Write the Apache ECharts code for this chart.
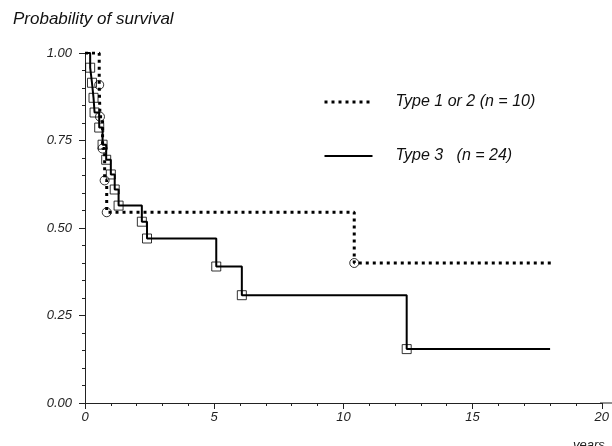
<!DOCTYPE html>
<html>
<head>
<meta charset="utf-8">
<script src="https://cdn.jsdelivr.net/npm/echarts@6/dist/echarts.min.js"></script>
<style>html,body{margin:0;padding:0;background:#fff;}#c{width:612px;height:446px;}</style>
</head>
<body>
<div id="c"></div>
<script>
// Data
const type12Name = 'Type 1 or 2 (n = 10)';
const type12Times = [0, 0.55, 0.58, 0.68, 0.76, 0.84, 10.42, 18.1];
const type12Surv  = [1.0, 0.909, 0.818, 0.727, 0.636, 0.545, 0.40, 0.40];

const type3Name = 'Type 3   (n = 24)';
const type3Times = [0, 0.2, 0.27, 0.33, 0.37, 0.55, 0.68, 0.82, 1.0, 1.15, 1.3, 2.2, 2.4, 5.08, 6.07, 12.45, 18.0];
const type3Surv  = [1.0, 0.958, 0.915, 0.872, 0.83, 0.787, 0.738, 0.695, 0.653, 0.61, 0.564, 0.518, 0.47, 0.39, 0.308, 0.154, 0.154];

const xTicks = [0, 5, 10, 15, 20];
const yTicks = [0, 0.25, 0.5, 0.75, 1.0];

const zip = (a, b) => a.map((v, i) => [v, b[i]]);
const type12Data = zip(type12Times, type12Surv);
const type3Data = zip(type3Times, type3Surv);
const type12Marks = type12Data.slice(1, -1);
const type3Marks = type3Data.slice(1, -1);

const FONT = '"Liberation Sans", Arial, sans-serif';
const ink = '#111';
const dottedStyle = {color: '#000', width: 3, type: [3, 4], cap: 'butt'};
const solidStyle = {color: '#000', width: 2, type: 'solid'};

const chart = echarts.init(document.getElementById('c'), null, {renderer: 'canvas'});
chart.setOption({
  animation: false,
  backgroundColor: '#fff',
  title: {
    text: 'Probability of survival',
    left: 8, top: 6,
    textStyle: {fontFamily: FONT, fontStyle: 'italic', fontWeight: 'normal', fontSize: 17, color: ink}
  },
  legend: {
    orient: 'vertical',
    left: 318, top: 89,
    itemWidth: 48, itemHeight: 16, itemGap: 38,
    selectedMode: false,
    data: [
      {name: type12Name, lineStyle: {color: '#000', width: 3, type: [3, 4], cap: 'butt'}},
      {name: type3Name, lineStyle: {color: '#000', width: 2, type: 'solid'}}
    ],
    itemStyle: {opacity: 0},
    textStyle: {fontFamily: FONT, fontStyle: 'italic', fontSize: 16, color: ink, padding: [0, 0, 0, 18]}
  },
  grid: {left: 85, right: 3, top: 53, bottom: 43, containLabel: false},
  xAxis: {
    type: 'value', min: xTicks[0], max: xTicks[xTicks.length - 1], interval: 5,
    axisLine: {show: true, onZero: false, lineStyle: {color: '#222', width: 1}},
    axisTick: {show: true, length: 6, lineStyle: {color: '#222'}},
    minorTick: {show: true, splitNumber: 5, length: 3, lineStyle: {color: '#222'}},
    splitLine: {show: false},
    axisLabel: {margin: 8, fontFamily: FONT, fontStyle: 'italic', fontSize: 13, color: '#222'}
  },
  yAxis: {
    type: 'value', min: yTicks[0], max: yTicks[yTicks.length - 1], interval: 0.25,
    axisLine: {show: true, onZero: false, lineStyle: {color: '#222', width: 1}},
    axisTick: {show: true, length: 6, lineStyle: {color: '#222'}},
    minorTick: {show: true, splitNumber: 5, length: 3, lineStyle: {color: '#222'}},
    splitLine: {show: false},
    axisLabel: {margin: 13, fontFamily: FONT, fontStyle: 'italic', fontSize: 13, color: '#222',
      formatter: v => v.toFixed(2)}
  },
  graphic: [
    {type: 'line', shape: {x1: 600, y1: 403, x2: 612, y2: 403}, style: {stroke: '#222', lineWidth: 1}},
    {type: 'text', left: 573, top: 439,
      style: {text: 'years', fontFamily: FONT, fontStyle: 'italic', fontSize: 13, fill: '#222'}}
  ],
  series: [
    {
      name: type12Name, type: 'line', step: 'end', data: type12Data,
      symbol: 'none', z: 3,
      lineStyle: dottedStyle,
      itemStyle: {color: '#000'}
    },
    {
      name: type3Name, type: 'line', step: 'end', data: type3Data,
      symbol: 'none', z: 4,
      lineStyle: solidStyle,
      itemStyle: {color: '#000'}
    },
    {
      name: 'type12marks', type: 'scatter', data: type12Marks,
      symbol: 'circle', symbolSize: 9, z: 5,
      itemStyle: {color: 'rgba(255,255,255,0)', borderColor: '#000', borderWidth: 1}
    },
    {
      name: 'type3marks', type: 'scatter', data: type3Marks,
      symbol: 'rect', symbolSize: 9, z: 5,
      itemStyle: {color: 'rgba(255,255,255,0)', borderColor: '#000', borderWidth: 1}
    }
  ]
});
</script>
</body>
</html>
